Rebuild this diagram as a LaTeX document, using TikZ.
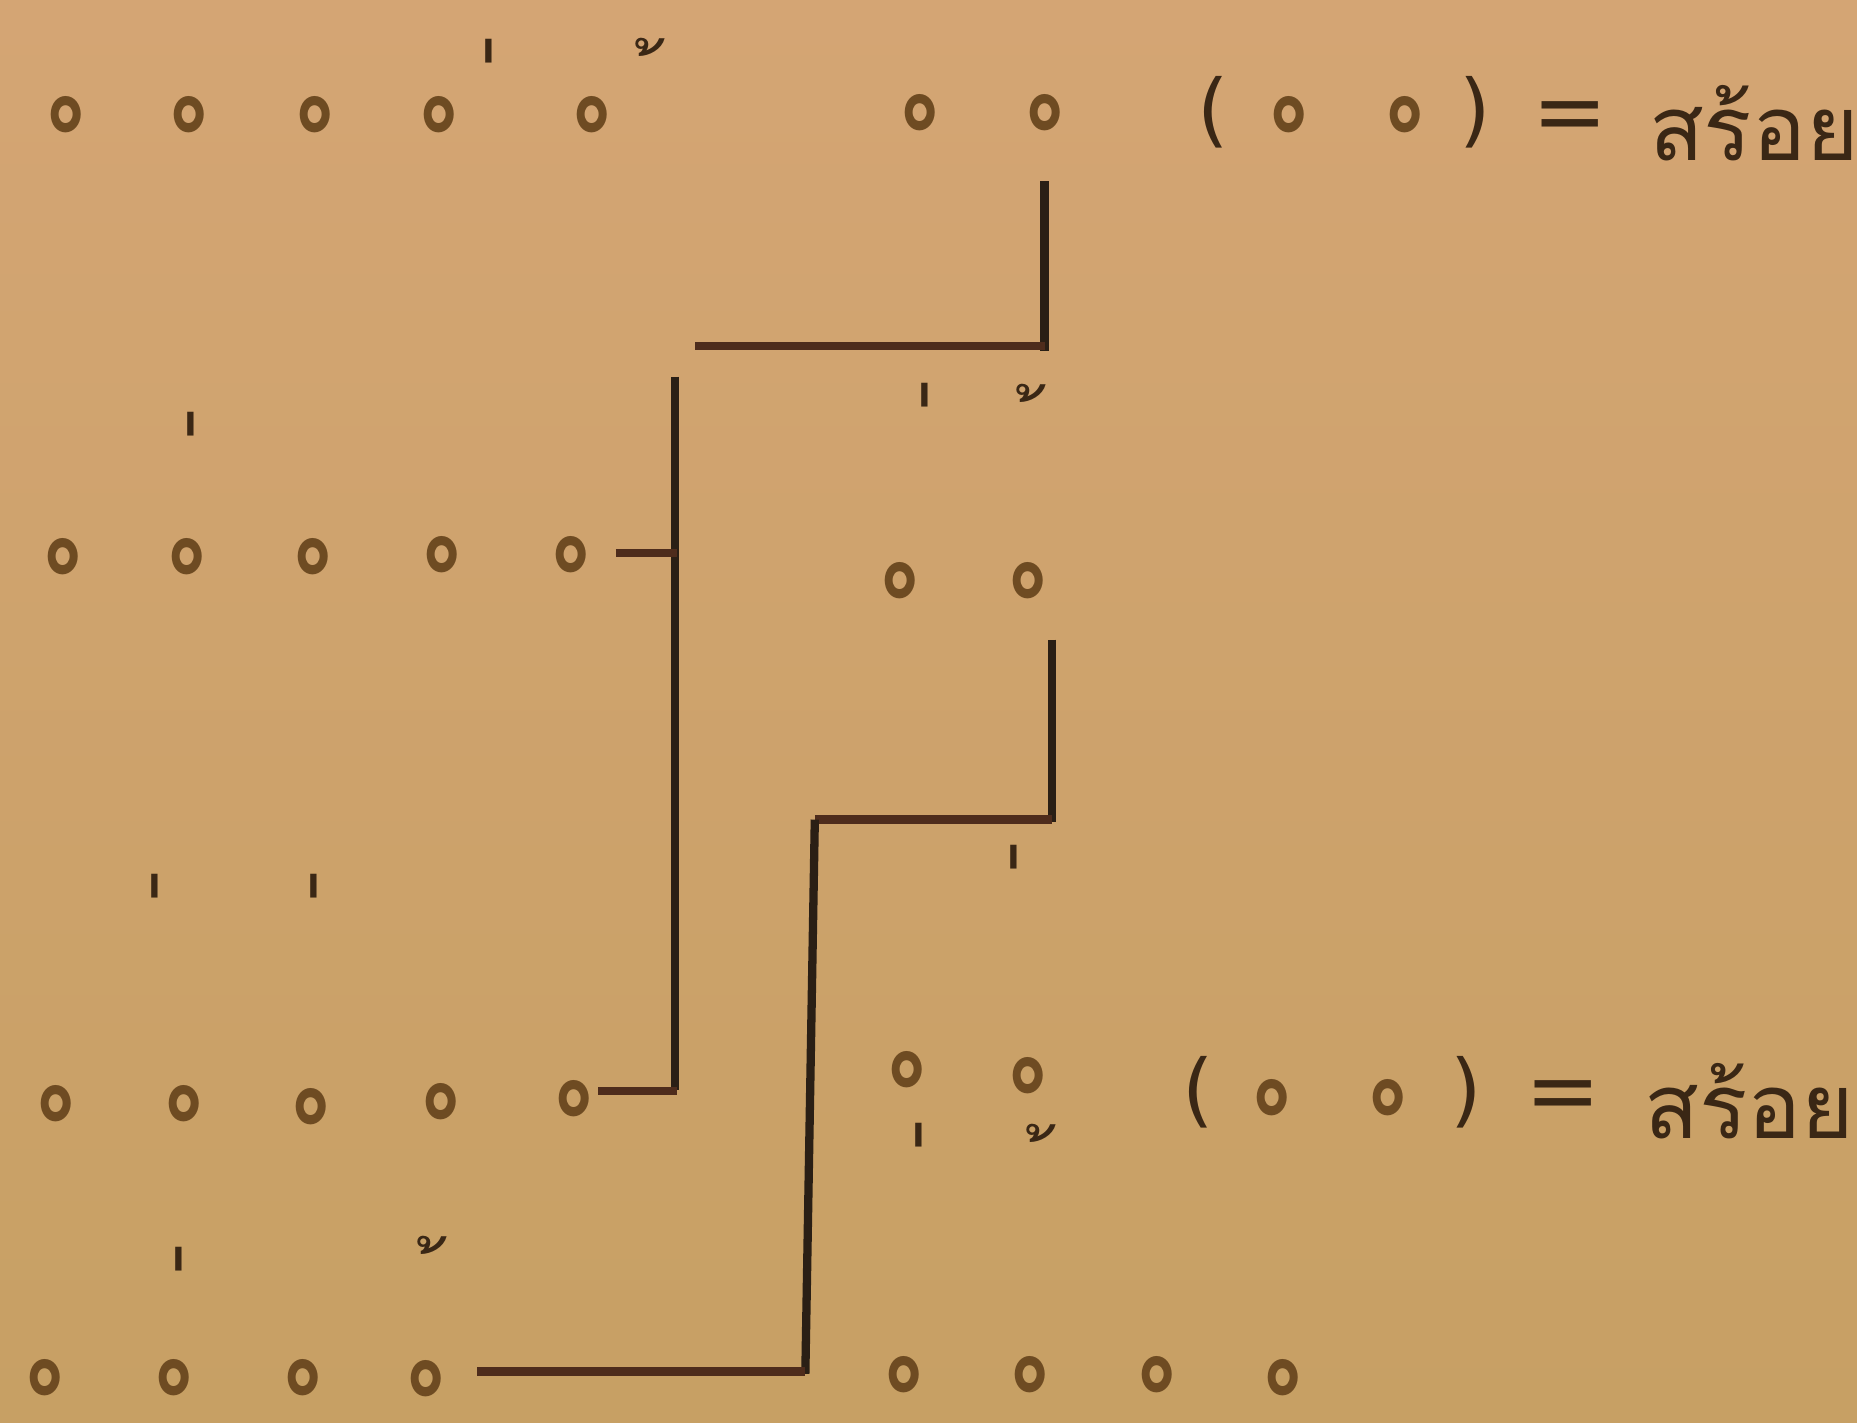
\documentclass[tikz,border=0pt]{standalone}
\usepackage{fontspec}
\usepackage{graphicx}
\newfontfamily\thai[Script=Thai]{Loma}
\newfontfamily\dejavu{DejaVu Sans}
\definecolor{paperTop}{HTML}{D4A574}
\definecolor{paperBot}{HTML}{C7A064}
\definecolor{circ}{HTML}{6E4B22}
\definecolor{ink}{HTML}{3A2715}
\definecolor{lineV}{HTML}{2A1F15}
\definecolor{lineH}{HTML}{4E2C1C}
\tikzset{
  syl/.style={inner sep=0pt, text=circ, font=\thai\bfseries\fontsize{27}{27}\selectfont},
  ektone/.style={inner sep=0pt, text=ink, font=\thai\fontsize{64}{64}\selectfont},
  thotone/.style={inner sep=0pt, text=ink, font=\thai\fontsize{34}{34}\selectfont},
  paren/.style={inner sep=0pt, text=ink, font=\dejavu\fontsize{34}{34}\selectfont},
  equal/.style={inner sep=0pt, text=ink, font=\dejavu\fontsize{38}{38}\selectfont},
  word/.style={inner sep=0pt, text=ink, anchor=west, font=\thai\fontsize{38}{38}\selectfont},
  rhymeV/.style={draw=lineV, line width=3.5pt},
  rhymeH/.style={draw=lineH, line width=3.5pt}
}
\newcommand{\syll}{\scalebox{1}[1.25]{๐}}
\newcommand{\maiek}{\scalebox{0.6}[1.15]{\char"00A0\char"0E48}}
\newcommand{\maitho}{\char"00A0\char"0E49}
\begin{document}
\begin{tikzpicture}[x=0.5pt,y=-0.5pt]
\useasboundingbox (0,0) rectangle (1568,1201);
\clip (0,0) rectangle (1568,1201);
\shade[top color=paperTop, bottom color=paperBot] (0,0) rectangle (1568,1201);

% ---- line 1
\node[syl] (a1) at (56,97) {\syll};
\node[syl] (a2) at (160,97) {\syll};
\node[syl] (a3) at (266,97) {\syll};
\node[syl] (a4) at (371,97) {\syll};
\node[syl] (a5) at (500,97) {\syll};
\node[syl] (a6) at (777,95) {\syll};
\node[syl] (a7) at (882,95) {\syll};
\node[ektone] (ta4) at (412,109) {\maiek};
\node[thotone] (ta5) at (550,68) {\maitho};
\node[paren] (alp) at (1024,95) {(};
\node[syl] (a8) at (1088,97) {\syll};
\node[syl] (a9) at (1186,97) {\syll};
\node[paren] (arp) at (1246,95) {)};
\node[equal] (aeq) at (1326,103) {=};
\node[word] (aw) at (1392,104) {สร้อย};

% ---- line 2
\node[syl] (b1) at (53,470) {\syll};
\node[syl] (b2) at (158,470) {\syll};
\node[syl] (b3) at (264,470) {\syll};
\node[syl] (b4) at (373,468) {\syll};
\node[syl] (b5) at (482,468) {\syll};
\node[syl] (b6) at (760,490) {\syll};
\node[syl] (b7) at (868,490) {\syll};
\node[ektone] (tb2) at (160,424) {\maiek};
\node[ektone] (tb6) at (780,399) {\maiek};
\node[thotone] (tb7) at (872,360) {\maitho};

% ---- line 3
\node[syl] (c1) at (47,932) {\syll};
\node[syl] (c2) at (155,932) {\syll};
\node[syl] (c3) at (263,934) {\syll};
\node[syl] (c4) at (372,930) {\syll};
\node[syl] (c5) at (485,928) {\syll};
\node[syl] (c6) at (766,903) {\syll};
\node[syl] (c7) at (868,908) {\syll};
\node[ektone] (tc3) at (130,814) {\maiek};
\node[ektone] (tc4) at (264,814) {\maiek};
\node[ektone] (tc6) at (775,1024) {\maiek};
\node[thotone] (tc7) at (880,985) {\maitho};
\node[paren] (clp) at (1012,922) {(};
\node[syl] (c8) at (1074,927) {\syll};
\node[syl] (c9) at (1172,927) {\syll};
\node[paren] (crp) at (1238,922) {)};
\node[equal] (ceq) at (1320,930) {=};
\node[word] (cw) at (1388,930) {สร้อย};

% ---- line 4
\node[syl] (d1) at (38,1163) {\syll};
\node[syl] (d2) at (147,1163) {\syll};
\node[syl] (d3) at (256,1163) {\syll};
\node[syl] (d4) at (360,1164) {\syll};
\node[syl] (d5) at (763,1161) {\syll};
\node[syl] (d6) at (870,1161) {\syll};
\node[syl] (d7) at (977,1161) {\syll};
\node[syl] (d8) at (1083,1163) {\syll};
\node[ektone] (td2) at (150,1129) {\maiek};
\node[thotone] (td4) at (366,1080) {\maitho};
\node[ektone] (tx) at (855,789) {\maiek};

% ---- rhyme connectors
\coordinate (p1) at (882,153);
\coordinate (p2) at (882,296);
\coordinate (p3) at (587,292);
\coordinate (p4) at (570,318);
\coordinate (p5) at (570,920);
\coordinate (p6) at (520,467);
\coordinate (p7) at (572,467);
\coordinate (p8) at (505,921);
\coordinate (p9) at (572,921);
\draw[rhymeV] (p1) -- (p2);
\draw[rhymeH] (p3) -- (p2 |- p3);
\draw[rhymeV] (p4) -- (p5);
\draw[rhymeH] (p6) -- (p7);
\draw[rhymeH] (p8) -- (p9);

\coordinate (q1) at (888,540);
\coordinate (q2) at (888,694);
\coordinate (q3) at (688,692);
\coordinate (q4) at (680,1160);
\coordinate (q5) at (403,1158);
\draw[rhymeV] (q1) -- (q2);
\draw[rhymeH] (q3) -- (q1 |- q3);
\draw[rhymeV] (q3) -- (q4);
\draw[rhymeH] (q5) -- (q4 |- q5);
\end{tikzpicture}
\end{document}
